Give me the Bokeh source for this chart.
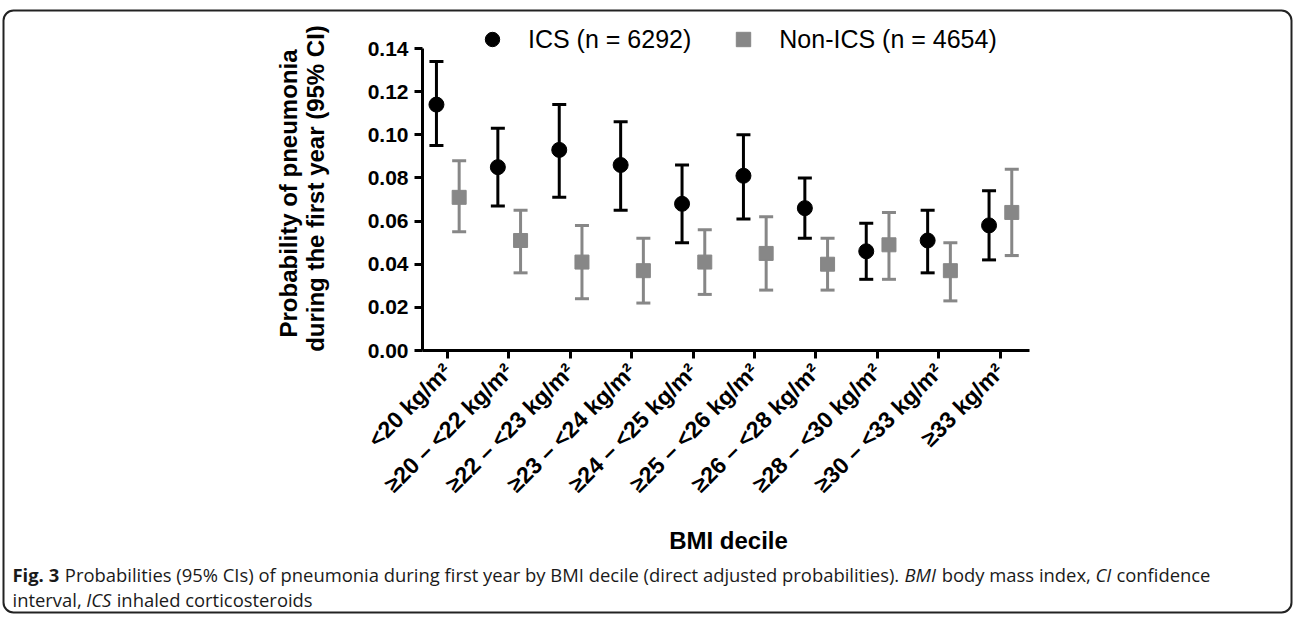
import math
from bokeh.plotting import figure
from bokeh.models import (Range1d, FixedTicker, Label, Whisker, ColumnDataSource,
                          TeeHead, BoxAnnotation, Legend, LegendItem, LinearAxis)
from bokeh.embed import file_html
from bokeh.resources import INLINE

# ---------------- data ----------------
categories = ["<20 kg/m²", "≥20 – <22 kg/m²", "≥22 – <23 kg/m²", "≥23 – <24 kg/m²",
              "≥24 – <25 kg/m²", "≥25 – <26 kg/m²", "≥26 – <28 kg/m²", "≥28 – <30 kg/m²",
              "≥30 – <33 kg/m²", "≥33 kg/m²"]
ics_prob = [0.114, 0.085, 0.093, 0.086, 0.068, 0.081, 0.066, 0.046, 0.051, 0.058]
ics_lower = [0.095, 0.067, 0.071, 0.065, 0.050, 0.061, 0.052, 0.033, 0.036, 0.042]
ics_upper = [0.134, 0.103, 0.114, 0.106, 0.086, 0.100, 0.080, 0.059, 0.065, 0.074]
non_prob = [0.071, 0.051, 0.041, 0.037, 0.041, 0.045, 0.040, 0.049, 0.037, 0.064]
non_lower = [0.055, 0.036, 0.024, 0.022, 0.026, 0.028, 0.028, 0.033, 0.023, 0.044]
non_upper = [0.088, 0.065, 0.058, 0.052, 0.056, 0.062, 0.052, 0.064, 0.050, 0.084]
y_ticks = [0.00, 0.02, 0.04, 0.06, 0.08, 0.10, 0.12, 0.14]
y_tick_labels = ["0.00", "0.02", "0.04", "0.06", "0.08", "0.10", "0.12", "0.14"]
ics_label = "ICS (n = 6292)"
non_label = "Non-ICS (n = 4654)"

# ---------------- layout constants ----------------
W, H = 1295, 617
AX_L, AX_R, AX_T, AX_B = 422, 1029, 48, 350   # axes box in canvas px
CAT0, CAT_STEP = 447.0, 61.4                  # px of first category, px per category
PX_PER_Y = (AX_B - AX_T) / 0.14
GREY = "#878787"
SANS = "Liberation Sans"

def to_x(cx):
    return (cx - CAT0) / CAT_STEP

def to_y(cy):
    return (AX_B - cy) / PX_PER_Y

p = figure(width=W, height=H, output_backend="svg", toolbar_location=None,
           x_range=Range1d(to_x(0), to_x(W)), y_range=Range1d(to_y(H), to_y(0)),
           x_axis_location=None, y_axis_location=None,
           min_border_left=0, min_border_right=0, min_border_top=0, min_border_bottom=0)
p.grid.visible = False
p.outline_line_color = None
p.background_fill_color = "white"
p.border_fill_color = "white"

idx = list(range(len(categories)))
xax = LinearAxis(ticker=FixedTicker(ticks=idx), fixed_location=0.0,
                 bounds=(to_x(AX_L), to_x(AX_R)))
yax = LinearAxis(ticker=FixedTicker(ticks=y_ticks), fixed_location=to_x(AX_L),
                 bounds=(0.0, 0.14))
for ax in (xax, yax):
    ax.axis_line_width = 3
    ax.axis_line_color = "black"
    ax.major_tick_line_width = 3
    ax.major_tick_line_color = "black"
    ax.major_tick_out = 8
    ax.major_tick_in = 0
    ax.minor_tick_line_color = None
    ax.major_label_text_font = SANS
    ax.major_label_text_font_style = "bold"
    ax.major_label_text_color = "black"

xax.major_label_overrides = {i: c for i, c in zip(idx, categories)}
xax.major_label_orientation = math.pi / 4
xax.major_label_text_font_size = "23px"
xax.major_label_standoff = 9
yax.major_label_overrides = {t: l for t, l in zip(y_ticks, y_tick_labels)}
yax.major_label_text_font_size = "21px"
yax.major_label_standoff = 6
p.add_layout(xax, "below")
p.add_layout(yax, "left")

# data sources
ics_x = [i - 0.18 for i in idx]
non_x = [i + 0.19 for i in idx]
src_ics = ColumnDataSource(dict(x=ics_x, y=ics_prob, lo=ics_lower, hi=ics_upper))
src_non = ColumnDataSource(dict(x=non_x, y=non_prob, lo=non_lower, hi=non_upper))

for src, col in ((src_ics, "black"), (src_non, GREY)):
    w = Whisker(source=src, base="x", lower="lo", upper="hi", dimension="height",
                line_color=col, line_width=3,
                upper_head=TeeHead(size=14, line_width=3, line_color=col),
                lower_head=TeeHead(size=14, line_width=3, line_color=col))
    p.add_layout(w)

r_ics = p.scatter("x", "y", source=src_ics, marker="circle", size=15,
                  fill_color="black", line_color="black")
r_non = p.scatter("x", "y", source=src_non, marker="square", size=14,
                  fill_color=GREY, line_color=GREY)

legend = Legend(items=[LegendItem(label=ics_label, renderers=[r_ics]),
                       LegendItem(label=non_label, renderers=[r_non])],
                orientation="horizontal", location=(474, H - 57),
                label_text_font=SANS, label_text_font_size="25px",
                label_text_color="black",
                label_standoff=18, glyph_width=36, glyph_height=36, spacing=34,
                padding=0, margin=0, border_line_color=None,
                background_fill_alpha=0)
p.add_layout(legend, "center")

# text helper (screen units: from canvas left, from canvas bottom)
def lab(cx, cy, text, size, style="bold", angle=0.0, align="center", font=SANS,
        color="black"):
    p.add_layout(Label(x=cx, y=H - cy, x_units="screen", y_units="screen",
                       text=text, angle=angle, text_align=align, text_baseline="middle",
                       text_font=font, text_font_style=style,
                       text_font_size=size, text_color=color))

lab(288, 193, "Probability of pneumonia", "24px", angle=math.pi / 2)
lab(315, 188, "during the first year (95% CI)", "24px", angle=math.pi / 2)
lab(728, 540, "BMI decile", "24px")

# caption with mixed styles (approximate Open Sans advance widths, 2048 upm)
OS_W = {' ': 532, '(': 608, ')': 608, '%': 1686, ',': 500, '-': 659, '.': 545,
        '0': 1171, '1': 1171, '2': 1171, '3': 1171, '4': 1171, '5': 1171, '6': 1171,
        '7': 1171, '8': 1171, '9': 1171,
        'A': 1296, 'B': 1327, 'C': 1292, 'D': 1493, 'E': 1139, 'F': 1057, 'I': 571,
        'M': 1849, 'P': 1233, 'S': 1124,
        'a': 1137, 'b': 1255, 'c': 977, 'd': 1255, 'e': 1149, 'f': 694, 'g': 1122,
        'h': 1257, 'i': 518, 'j': 518, 'k': 1075, 'l': 518, 'm': 1905, 'n': 1257,
        'o': 1237, 'p': 1255, 'q': 1255, 'r': 836, 's': 977, 't': 723, 'u': 1257,
        'v': 1026, 'w': 1593, 'x': 1073, 'y': 1028, 'z': 946}
STYLE_F = {"normal": 1.0, "bold": 1.07, "italic": 0.96}

def tw(s, size, style):
    return sum(OS_W.get(ch, 1100) for ch in s) / 2048.0 * size * STYLE_F[style]

cap_lines = [
    [("Fig. 3", "bold"), (" ", "normal"),
     ("Probabilities (95% CIs) of pneumonia during first year by BMI decile (direct adjusted probabilities).", "normal"),
     (" ", "normal"), ("BMI", "italic"), (" ", "normal"), ("body mass index,", "normal"),
     (" ", "normal"), ("CI", "italic"), (" ", "normal"), ("confidence", "normal")],
    [("interval,", "normal"), (" ", "normal"), ("ICS", "italic"), (" ", "normal"),
     ("inhaled corticosteroids", "normal")],
]
target = 1210 - 12
line1_em = sum(tw(t, 1.0, s) for t, s in cap_lines[0])
cap_size = target / line1_em
cap_y = [574, 599]
for line, cy in zip(cap_lines, cap_y):
    cx = 12.0
    for t, s in line:
        if t.strip():
            lab(cx, cy, t, f"{cap_size:.2f}px", style=s, align="left",
                font="Open Sans", color="#1a1a1a")
        cx += tw(t, cap_size, s)

# outer rounded frame
p.add_layout(BoxAnnotation(left=3, right=1291, top=H - 10, bottom=H - 612,
                           left_units="screen", right_units="screen",
                           top_units="screen", bottom_units="screen",
                           fill_alpha=0, line_color="#222222", line_alpha=1.0,
                           line_width=2, border_radius=10, level="overlay"))

open("out.html", "w").write(file_html(p, INLINE))
